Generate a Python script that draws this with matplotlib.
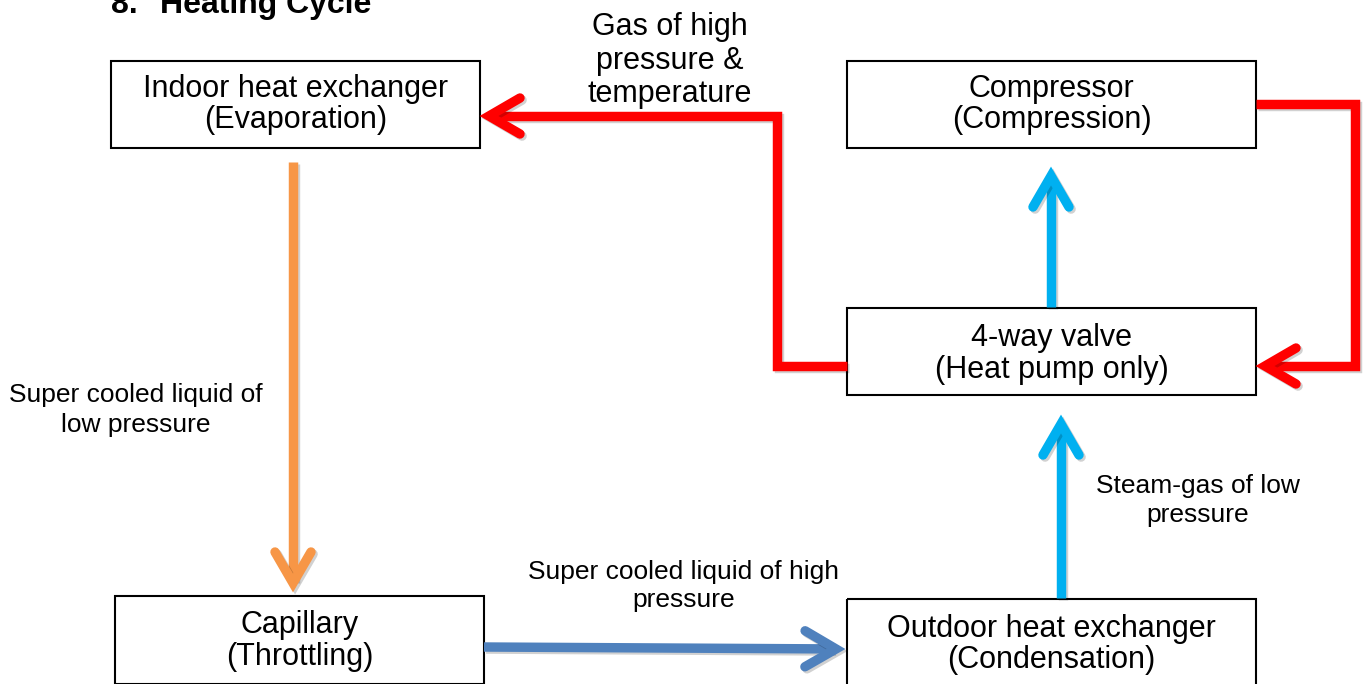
import matplotlib
matplotlib.use("Agg")
import matplotlib.pyplot as plt
import matplotlib.patheffects as pe
import numpy as np

plt.rcParams['font.family'] = ['Liberation Sans', 'DejaVu Sans']

# ---- content -------------------------------------------------------------
title_num = "8."
title_text = "Heating Cycle"

box_labels = [
    ["Indoor heat exchanger", "(Evaporation)"],
    ["Compressor", "(Compression)"],
    ["4-way valve", "(Heat pump only)"],
    ["Capillary", "(Throttling)"],
    ["Outdoor heat exchanger", "(Condensation)"],
]
# box rectangles (x0, y0, x1, y1) in pixel space of the canvas
box_rects = [
    (111, 61, 480, 148),
    (847, 61, 1256, 148),
    (847, 308, 1256, 395),
    (115, 596, 484, 684),
    (847, 599, 1256, 690),
]
box_baselines = [(97, 128), (97, 128), (346, 378), (633, 665), (637, 668)]

flow_labels = [
    ["Gas of high", "pressure &", "temperature"],
    ["Super cooled liquid of", "low pressure"],
    ["Super cooled liquid of high", "pressure"],
    ["Steam-gas of low", "pressure"],
]
flow_label_x = [670, 136, 684, 1198]
flow_label_baselines = [(35, 69, 102), (402, 432), (579, 607), (493, 522)]
flow_label_sizes = [22, 19, 19, 19]

# arrows: polyline vertices, last point = visible tip
arrow_paths = [
    [(847, 366), (777, 366), (777, 116), (480, 116)],      # red to indoor
    [(1256, 104), (1355, 104), (1355, 366), (1256, 366)],  # red to 4-way
    [(293, 162), (293, 592)],                              # orange down
    [(484, 647), (845, 649)],                              # blue to outdoor
    [(1061, 598), (1061, 415)],                            # light blue up
    [(1051, 307), (1051, 167)],                            # light blue up
]
arrow_colors = ["#FF0000", "#FF0000", "#F79646", "#4F81BD", "#00B0F0", "#00B0F0"]

# ---- figure --------------------------------------------------------------
fig = plt.figure(figsize=(13.68, 6.84), dpi=100)
ax = fig.add_axes([0, 0, 1, 1])
ax.set_xlim(0, 1368)
ax.set_ylim(684, 0)
ax.axis('off')

# title (partly cut at the top edge, as in the reference)
ax.text(111, 13, title_num, fontsize=23, fontweight='bold', ha='left', va='baseline')
ax.text(160, 13, title_text, fontsize=23, fontweight='bold', ha='left', va='baseline')

# boxes
for (x0, y0, x1, y1), lines, bls in zip(box_rects, box_labels, box_baselines):
    ax.add_patch(plt.Rectangle((x0, y0), x1 - x0, y1 - y0, fill=False,
                               edgecolor='black', linewidth=1.5, zorder=2))
    cx = (x0 + x1) / 2
    for ln, by in zip(lines, bls):
        ax.text(cx, by, ln, fontsize=22, ha='center', va='baseline', zorder=3)

# flow labels
for lines, x, bls, fs in zip(flow_labels, flow_label_x, flow_label_baselines, flow_label_sizes):
    for ln, by in zip(lines, bls):
        ax.text(x, by, ln, fontsize=fs, ha='center', va='baseline', zorder=3)

# arrows
lw = 6.8
shadow = [pe.SimpleLineShadow(offset=(1.5, -1.5), shadow_color='black', alpha=0.18),
          pe.Normal()]
for pts, col in zip(arrow_paths, arrow_colors):
    pts = np.array(pts, dtype=float)
    tip = pts[-1]
    prev = pts[-2]
    d = (tip - prev) / np.linalg.norm(tip - prev)
    n = np.array([-d[1], d[0]])
    vertex = tip - d * 9
    line_pts = pts.copy()
    line_pts[-1] = vertex - d * 2
    ax.plot(line_pts[:, 0], line_pts[:, 1], color=col, linewidth=lw,
            solid_capstyle='butt', solid_joinstyle='miter', zorder=4,
            path_effects=shadow)
    a1 = vertex - d * 31 + n * 18
    a2 = vertex - d * 31 - n * 18
    head = np.array([a1, vertex, a2])
    ax.plot(head[:, 0], head[:, 1], color=col, linewidth=lw,
            solid_capstyle='round', solid_joinstyle='miter', zorder=4,
            path_effects=shadow)

fig.savefig("out.png", dpi=100)
